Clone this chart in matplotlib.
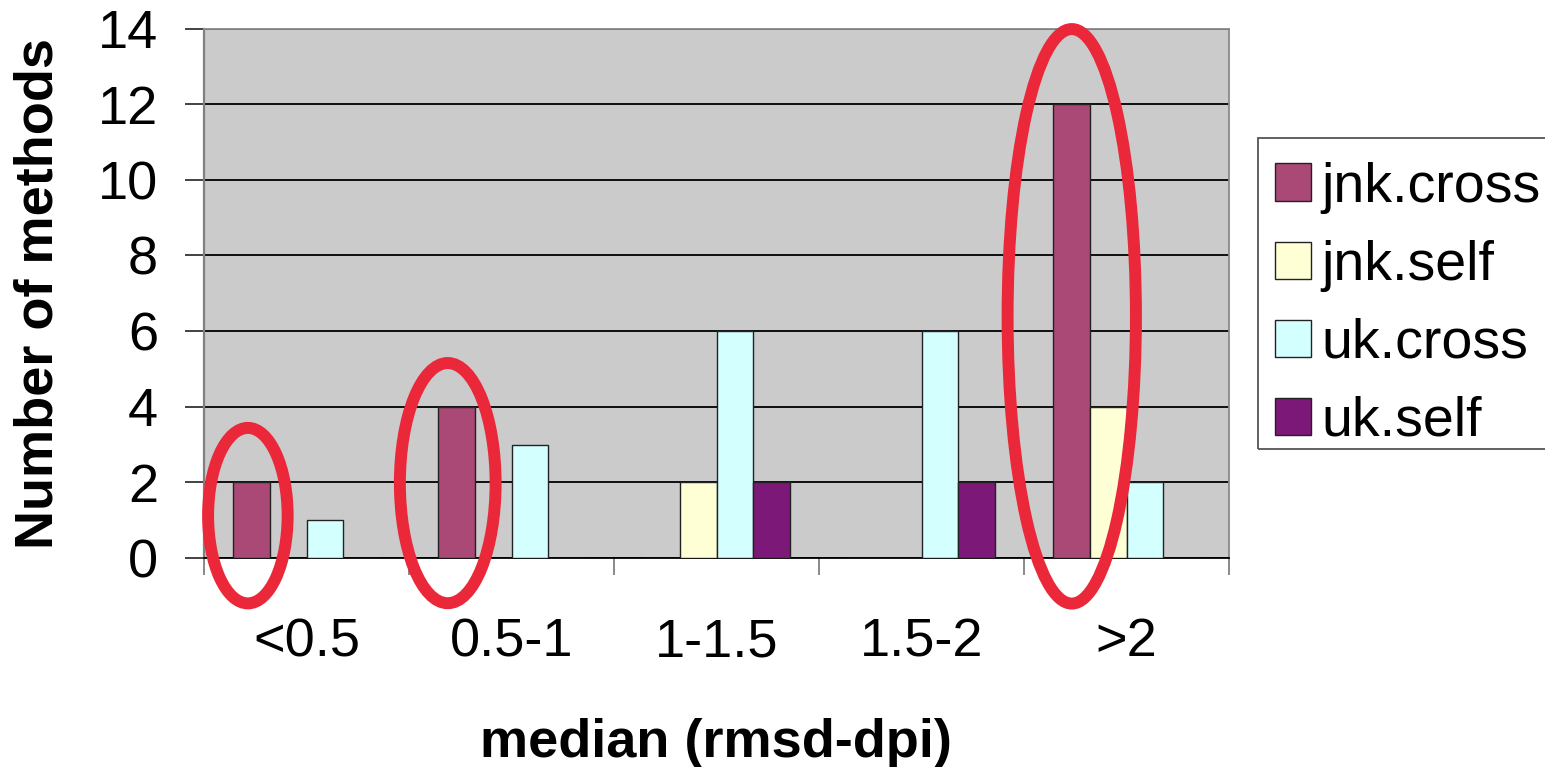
import matplotlib
matplotlib.use("Agg")
import matplotlib.pyplot as plt
from matplotlib.patches import Ellipse, Rectangle
import numpy as np

# Category bins of the median RMSD and the number of methods per bin
categories = ["<0.5", "0.5-1", "1-1.5", "1.5-2", ">2"]
series_names = ["jnk.cross", "jnk.self", "uk.cross", "uk.self"]
jnk_cross = [2, 4, 0, 0, 12]
jnk_self = [0, 0, 2, 0, 4]
uk_cross = [1, 3, 6, 6, 2]
uk_self = [0, 0, 2, 2, 0]
y_ticks = [0, 2, 4, 6, 8, 10, 12, 14]

series_values = [jnk_cross, jnk_self, uk_cross, uk_self]
series_colors = ["#AA4876", "#FFFFD5", "#D3FFFF", "#7B1878"]

plt.rcParams["font.family"] = ["Liberation Sans", "DejaVu Sans"]
FS = 39

fig = plt.figure(figsize=(15.45, 7.67), dpi=100)
W, H = 1545, 767
left, right, top, bottom = 204, 1229, 28.5, 558
ax = fig.add_axes([left / W, 1 - bottom / H, (right - left) / W, (bottom - top) / H])
ax.set_facecolor("#CBCBCB")

n_cat = len(categories)
bar_w = 0.18
centers = np.arange(n_cat) + 0.5
handles = []
for j, (vals, col, name) in enumerate(zip(series_values, series_colors, series_names)):
    xs = centers + (j - 1.5) * bar_w
    b = ax.bar(xs, vals, width=bar_w, color=col, edgecolor="#222222",
               linewidth=1.0, label=name, zorder=3)
    handles.append(b)

ax.set_xlim(0, n_cat)
ax.set_ylim(0, 14)
ax.set_yticks(y_ticks)
ax.set_yticklabels([str(t) for t in y_ticks], fontsize=FS)

# category labels centred, boundary tick marks at bin edges
ax.set_xticks(centers)
ax.set_xticklabels(categories, fontsize=FS)
ax.set_xticks(np.arange(n_cat + 1), minor=True)
ax.tick_params(axis="x", which="major", length=0, pad=42.6)
ax.tick_params(axis="x", which="minor", length=12, width=1.3, color="#808080", direction="out")
ax.tick_params(axis="y", which="major", length=13.7, width=1.2, color="#222222", pad=19.3)

ax.grid(axis="y", color="black", linewidth=1.3, zorder=1)
ax.set_axisbelow(True)
for s in ["top", "right"]:
    ax.spines[s].set_color("#8A8A8A")
    ax.spines[s].set_linewidth(1.3)
ax.spines["left"].set_color("#808080")
ax.spines["left"].set_linewidth(1.6)
ax.spines["bottom"].set_color("black")
ax.spines["bottom"].set_linewidth(1.3)

ax.set_xlabel("median (rmsd-dpi)", fontsize=FS, fontweight="bold", labelpad=36.8)
ax.set_ylabel("Number of methods", fontsize=FS, fontweight="bold", labelpad=24.5)

# highlight rings around the jnk.cross bars of interest
rings = [
    (0.214, 1.12, 0.388, 4.64),
    (1.189, 1.98, 0.467, 6.35),
    (4.233, 6.39, 0.626, 15.19),
]
for cx, cy, rw, rh in rings:
    ax.add_patch(Ellipse((cx, cy), rw, rh, fill=False, edgecolor="#EA2839",
                         linewidth=8.6, clip_on=False, zorder=5))

# legend entries, with a plain rectangular frame around them
LFS = 40
ax.legend(handles=handles, labels=series_names, loc="upper left",
          bbox_to_anchor=(1275.0 / W, 1 - 161.5 / H),
          bbox_transform=fig.transFigure, borderaxespad=0, borderpad=0,
          fontsize=LFS, frameon=False, handlelength=0.65, handleheight=0.65,
          handletextpad=0.18, labelspacing=0.47)
fig.add_artist(Rectangle((1258.3 / W, 1 - 449.3 / H), (1570 - 1258.3) / W, (449.3 - 138.3) / H,
                         transform=fig.transFigure, fill=False, edgecolor="#555555",
                         linewidth=1.3, clip_on=False))

fig.savefig("out.png", dpi=100)
